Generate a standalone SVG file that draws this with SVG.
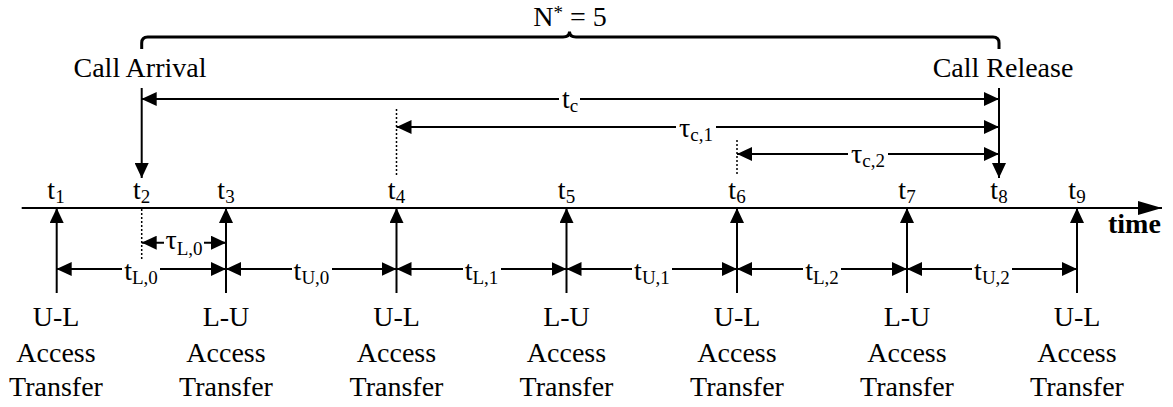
<svg xmlns="http://www.w3.org/2000/svg" width="1173" height="407" viewBox="0 0 1173 407">
<style>
text{font-family:"Liberation Serif","Times New Roman",serif;font-size:28px;fill:#000}
.lbl{text-anchor:middle}
.sub{font-size:19px}
.ln{stroke:#000;stroke-width:2;fill:none}
.dim{stroke:#000;stroke-width:2;fill:none;marker-start:url(#ah);marker-end:url(#ah)}
.one{stroke:#000;stroke-width:2;fill:none;marker-end:url(#ah)}
.dot{stroke:#000;stroke-width:1.5;stroke-dasharray:2 2;fill:none}
.bg{fill:#fff}
</style>
<defs>
<marker id="ah" markerUnits="userSpaceOnUse" markerWidth="15" markerHeight="14" refX="15" refY="7" orient="auto-start-reverse" viewBox="0 0 15 14">
<path d="M0,0 L15,7 L0,14 z" fill="#000"/>
</marker>
<marker id="ahBig" markerUnits="userSpaceOnUse" markerWidth="24" markerHeight="14" refX="24" refY="7" orient="auto" viewBox="0 0 24 14">
<path d="M0,0 L24,7 L0,14 z" fill="#000"/>
</marker>
</defs>

<g id="brace">
<path d="M141.7,49 V43 Q141.7,37 147.7,37 H563 Q569.5,37 569.5,31.5 Q569.5,37 576,37 H993 Q999,37 999,43 V49" stroke="#000" stroke-width="3" fill="none"/>
<text class="lbl" x="570" y="26">N<tspan class="sub" dy="-7">*</tspan><tspan dy="7"> = 5</tspan></text>
</g>

<g id="call-arrival">
<text class="lbl" x="140" y="77">Call Arrival</text>
</g>
<g id="call-release">
<text class="lbl" x="1003" y="77">Call Release</text>
</g>

<g id="time-axis">
<line x1="21.7" y1="208" x2="1162" y2="208" stroke="#000" stroke-width="2" marker-end="url(#ahBig)"/>
<text x="1108" y="233" font-weight="bold">time</text>
</g>

<g id="time-labels">
<text class="lbl" x="56" y="199">t<tspan class="sub" dy="4">1</tspan></text>
<text class="lbl" x="141.7" y="199">t<tspan class="sub" dy="4">2</tspan></text>
<text class="lbl" x="226" y="199">t<tspan class="sub" dy="4">3</tspan></text>
<text class="lbl" x="396.5" y="199">t<tspan class="sub" dy="4">4</tspan></text>
<text class="lbl" x="566.5" y="199">t<tspan class="sub" dy="4">5</tspan></text>
<text class="lbl" x="737" y="199">t<tspan class="sub" dy="4">6</tspan></text>
<text class="lbl" x="907" y="199">t<tspan class="sub" dy="4">7</tspan></text>
<text class="lbl" x="999" y="199">t<tspan class="sub" dy="4">8</tspan></text>
<text class="lbl" x="1077" y="199">t<tspan class="sub" dy="4">9</tspan></text>
</g>

<g id="transfer-1">
<text class="lbl" x="56" y="326">U-L</text>
<text class="lbl" x="56" y="361.7">Access</text>
<text class="lbl" x="56" y="396">Transfer</text>
</g>
<g id="transfer-3">
<text class="lbl" x="226" y="326">L-U</text>
<text class="lbl" x="226" y="361.7">Access</text>
<text class="lbl" x="226" y="396">Transfer</text>
</g>
<g id="transfer-4">
<text class="lbl" x="396.5" y="326">U-L</text>
<text class="lbl" x="396.5" y="361.7">Access</text>
<text class="lbl" x="396.5" y="396">Transfer</text>
</g>
<g id="transfer-5">
<text class="lbl" x="566.5" y="326">L-U</text>
<text class="lbl" x="566.5" y="361.7">Access</text>
<text class="lbl" x="566.5" y="396">Transfer</text>
</g>
<g id="transfer-6">
<text class="lbl" x="737" y="326">U-L</text>
<text class="lbl" x="737" y="361.7">Access</text>
<text class="lbl" x="737" y="396">Transfer</text>
</g>
<g id="transfer-7">
<text class="lbl" x="907" y="326">L-U</text>
<text class="lbl" x="907" y="361.7">Access</text>
<text class="lbl" x="907" y="396">Transfer</text>
</g>
<g id="transfer-9">
<text class="lbl" x="1077" y="326">U-L</text>
<text class="lbl" x="1077" y="361.7">Access</text>
<text class="lbl" x="1077" y="396">Transfer</text>
</g>

<g id="connectors">
<!-- event arrows up to axis -->
<line class="one" x1="56.7" y1="293" x2="56.7" y2="208"/>
<line class="one" x1="226" y1="293" x2="226" y2="208"/>
<line class="one" x1="396.5" y1="293" x2="396.5" y2="208"/>
<line class="one" x1="566.5" y1="293" x2="566.5" y2="208"/>
<line class="one" x1="737" y1="293" x2="737" y2="208"/>
<line class="one" x1="907" y1="293" x2="907" y2="208"/>
<line class="one" x1="1077" y1="293" x2="1077" y2="208"/>
<!-- call arrival/release -->
<line class="one" x1="141.7" y1="88" x2="141.7" y2="178"/>
<line class="one" x1="999" y1="88" x2="999" y2="178"/>
<!-- dotted markers -->
<line class="dot" x1="141.7" y1="209" x2="141.7" y2="259"/>
<line class="dot" x1="396.5" y1="109" x2="396.5" y2="175"/>
<line class="dot" x1="737" y1="140" x2="737" y2="174"/>
<!-- tc, tau lines -->
<line class="dim" x1="141.7" y1="99" x2="999" y2="99"/>
<line class="dim" x1="396.5" y1="127" x2="999" y2="127"/>
<line class="dim" x1="737" y1="154" x2="999" y2="154"/>
<line class="dim" x1="141.7" y1="242.7" x2="226" y2="242.7"/>
<!-- interval lines -->
<line class="dim" x1="56.7" y1="269" x2="226" y2="269"/>
<line class="dim" x1="226" y1="269" x2="396.5" y2="269"/>
<line class="dim" x1="396.5" y1="269" x2="566.5" y2="269"/>
<line class="dim" x1="566.5" y1="269" x2="737" y2="269"/>
<line class="dim" x1="737" y1="269" x2="907" y2="269"/>
<line class="dim" x1="907" y1="269" x2="1077" y2="269"/>
<!-- label backgrounds and labels -->
<rect class="bg" x="559" y="90" width="21" height="20"/>
<text class="lbl" x="570" y="108">t<tspan class="sub" dy="4">c</tspan></text>
<rect class="bg" x="676" y="118" width="40" height="20"/>
<text class="lbl" x="696" y="136.5">τ<tspan class="sub" dy="4">c,1</tspan></text>
<rect class="bg" x="848" y="145" width="40" height="20"/>
<text class="lbl" x="868" y="163">τ<tspan class="sub" dy="4">c,2</tspan></text>
<rect class="bg" x="164" y="234" width="40" height="20"/>
<text class="lbl" x="184" y="249">τ<tspan class="sub" dy="6">L,0</tspan></text>
<rect class="bg" x="122" y="260" width="38" height="20"/>
<text class="lbl" x="141" y="280">t<tspan class="sub" dy="4">L,0</tspan></text>
<rect class="bg" x="292" y="260" width="40" height="20"/>
<text class="lbl" x="311.5" y="280">t<tspan class="sub" dy="4">U,0</tspan></text>
<rect class="bg" x="463" y="260" width="38" height="20"/>
<text class="lbl" x="481.5" y="280">t<tspan class="sub" dy="4">L,1</tspan></text>
<rect class="bg" x="632" y="260" width="40" height="20"/>
<text class="lbl" x="652" y="280">t<tspan class="sub" dy="4">U,1</tspan></text>
<rect class="bg" x="803" y="260" width="38" height="20"/>
<text class="lbl" x="822" y="280">t<tspan class="sub" dy="4">L,2</tspan></text>
<rect class="bg" x="972" y="260" width="40" height="20"/>
<text class="lbl" x="992" y="280">t<tspan class="sub" dy="4">U,2</tspan></text>
</g>
</svg>
